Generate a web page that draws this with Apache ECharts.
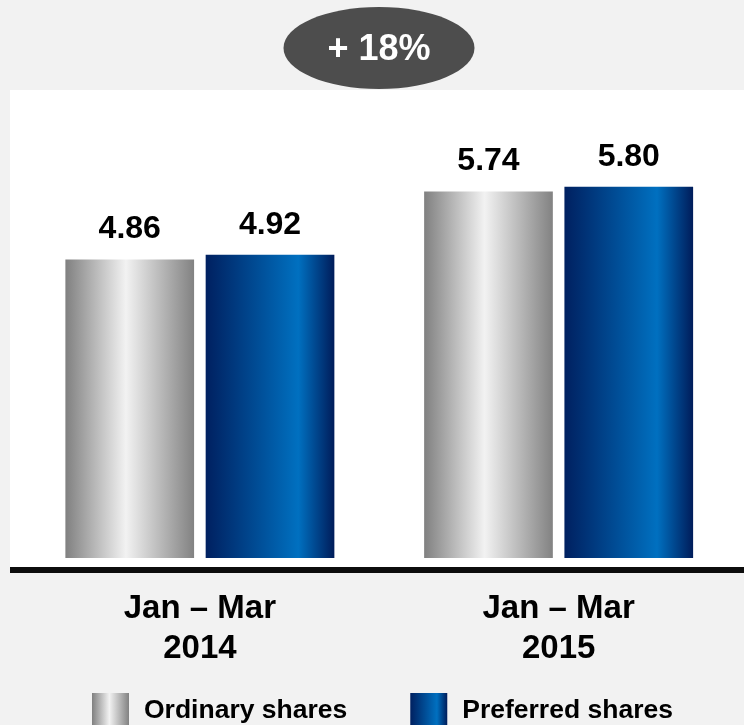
<!DOCTYPE html>
<html>
<head>
<meta charset="utf-8">
<script src="https://cdn.jsdelivr.net/npm/echarts@6/dist/echarts.min.js"></script>
<style>
  html, body { margin: 0; padding: 0; background: #f2f2f2; }
  #container { width: 744px; height: 725px; }
</style>
</head>
<body>
<div id="container"></div>
<script>
// chart data
var periods = ['Jan \u2013 Mar', 'Jan \u2013 Mar'];
var years = ['2014', '2015'];
var ordinary = [4.86, 5.74];
var preferred = [4.92, 5.80];
var seriesNames = ['Ordinary shares', 'Preferred shares'];
var growthLabel = '+ 18%';

var FONT = "'Liberation Sans', Arial, sans-serif";

var grayFill = new echarts.graphic.LinearGradient(0, 0, 1, 0, [
    {offset: 0, color: '#808080'},
    {offset: 0.47, color: '#f2f2f2'},
    {offset: 1, color: '#828282'}
]);
var blueFill = new echarts.graphic.LinearGradient(0, 0, 1, 0, [
    {offset: 0, color: '#002060'},
    {offset: 0.72, color: '#0070c0'},
    {offset: 1, color: '#001c5a'}
]);

var categories = periods.map(function (p, i) {
    return p + '\n' + years[i];
});

var valueLabel = {
    show: true,
    position: 'top',
    distance: 14,
    fontFamily: FONT,
    fontSize: 32,
    fontWeight: 'bold',
    color: '#000',
    formatter: function (p) {
        return p.value.toFixed(2);
    }
};

var myChart = echarts.init(document.getElementById('container'));

var option = {
    backgroundColor: '#f2f2f2',
    animation: false,
    grid: {
        left: 20.5,
        right: 6,
        top: 94,
        bottom: 167
    },
    legend: {
        left: 87,
        top: 688,
        itemWidth: 37,
        itemHeight: 36,
        itemGap: 63,
        selectedMode: false,
        icon: 'rect',
        data: seriesNames,
        textStyle: {
            fontFamily: FONT,
            fontSize: 26.5,
            fontWeight: 'bold',
            color: '#000',
            padding: [0, 0, 0, 10]
        }
    },
    graphic: [
        {
            type: 'rect',
            z: -10,
            shape: {x: 10, y: 90, width: 734, height: 477},
            style: {fill: '#ffffff'}
        },
        {
            type: 'rect',
            z: 10,
            shape: {x: 10, y: 567, width: 734, height: 6},
            style: {fill: '#0d0d0d'}
        },
        {
            type: 'ellipse',
            z: 10,
            shape: {cx: 379, cy: 48, rx: 95.5, ry: 41},
            style: {fill: '#4d4d4d'}
        },
        {
            type: 'text',
            z: 11,
            x: 379,
            y: 50,
            style: {
                text: growthLabel,
                fill: '#fff',
                font: 'bold 36px ' + FONT,
                align: 'center',
                verticalAlign: 'middle'
            }
        }
    ],
    xAxis: {
        type: 'category',
        data: categories,
        axisLine: {show: false},
        axisTick: {show: false},
        axisLabel: {
            margin: 31,
            fontFamily: FONT,
            fontSize: 33,
            fontWeight: 'bold',
            lineHeight: 40,
            color: '#000'
        }
    },
    yAxis: {
        type: 'value',
        min: 1,
        max: 7,
        show: false,
        splitLine: {show: false}
    },
    series: [
        {
            name: seriesNames[0],
            type: 'bar',
            data: ordinary,
            barWidth: 128.7,
            barGap: '9%',
            itemStyle: {color: grayFill},
            label: valueLabel
        },
        {
            name: seriesNames[1],
            type: 'bar',
            data: preferred,
            barWidth: 128.7,
            itemStyle: {color: blueFill},
            label: valueLabel
        }
    ]
};

myChart.setOption(option);
</script>
</body>
</html>
